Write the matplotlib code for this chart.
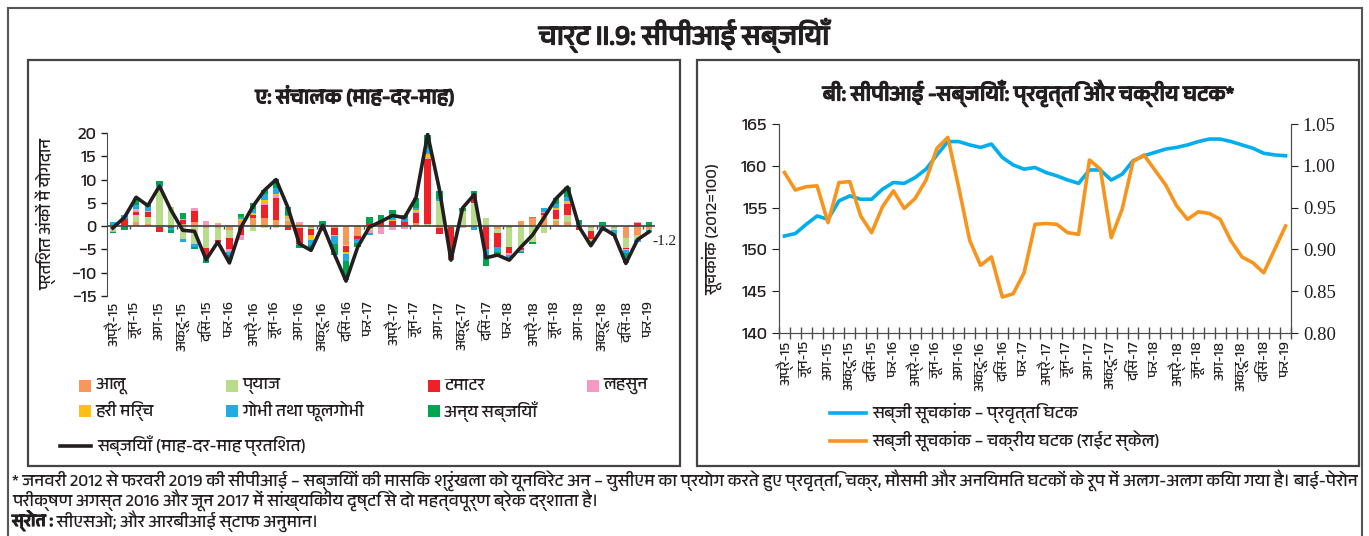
import matplotlib

matplotlib.use("Agg")
import matplotlib.pyplot as plt
import matplotlib.patheffects as pe
import numpy as np
from matplotlib import font_manager
from matplotlib.lines import Line2D
from matplotlib.patches import Rectangle

# pick a font that has Devanagari glyphs, fall back to DejaVu for the rest
deva = sorted({f.name for f in font_manager.fontManager.ttflist if "Devanagari" in f.name})
FAMILY = deva[:1] + ["DejaVu Sans"]
plt.rcParams["font.family"] = FAMILY

INK = "#231f20"
BOLD = [pe.withStroke(linewidth=0.9, foreground=INK)]   # the Devanagari face has no bold cut

# ---- data: Apr-2015 .. Feb-2019 (47 months) ----
tick_labels = ["अप्रै-15", "जून-15", "अग-15", "अक्टू-15", "दिसं-15", "फर-16",
               "अप्रै-16", "जून-16", "अग-16", "अक्टू-16", "दिसं-16", "फर-17",
               "अप्रै-17", "जून-17", "अग-17", "अक्टू-17", "दिसं-17", "फर-18",
               "अप्रै-18", "जून-18", "अग-18", "अक्टू-18", "दिसं-18", "फर-19"]

series_names = ["आलू", "प्याज", "टमाटर", "लहसुन", "हरी मिर्च", "गोभी तथा फूलगोभी", "अन्य सब्जियाँ"]
series_colors = ["#F7975A", "#B9DC8C", "#EE2128", "#F49AC2", "#FDC010", "#21ABE2", "#00A551"]

potato = [-0.3, 0.2, 0.8, 0.4, -0.2, 0.0, 0.5, 0.8, -0.5, -0.4, -0.8, 1.0, 1.8, 1.8, 1.4, 1.2,
          0.4, -0.5, -0.4, -0.5, -4.0, -2.2, -0.6, -0.5, 0.3, 0.3, 0.6, 0.2, -0.3, -0.2, 0.0, 0.0,
          0.0, -0.7, -0.3, 1.2, 1.8, 2.3, 1.0, 0.8, 0.0, -0.3, 0.2, -0.5, -2.6, -2.0, -0.6]
onion = [-0.8, 0.0, 1.7, 1.6, 8.3, 4.0, -2.8, -3.8, -4.2, -2.6, -1.7, 0.0, -1.0, -0.3, -0.3, 0.3,
         -0.3, -0.2, 0.0, 0.0, -0.3, 0.0, -0.3, 0.0, 0.0, 0.0, 0.0, 0.3, 5.3, 0.2, 3.0, 5.0,
         1.8, -0.8, -4.2, -4.8, -3.5, -1.5, 0.5, 1.7, 0.0, -0.7, 0.0, -0.3, -2.0, -1.0, -0.3]
tomato = [0.3, 1.3, 0.6, 1.0, -1.0, -0.5, 0.8, 2.5, -1.8, -0.5, -2.5, -2.0, 0.5, 2.7, 4.6, -0.9,
          -3.5, -1.3, -0.4, -1.3, -1.2, -0.5, 0.4, 0.8, 0.8, 0.5, 2.2, 14.0, -1.3, -6.8, -0.2, 1.8,
          -5.0, -3.0, -1.3, -0.3, 0.0, 0.6, 2.0, 2.3, -0.8, -1.7, -0.2, 0.0, -0.3, 0.7, 0.0]
garlic = [-0.2, 0.0, 0.3, 0.2, 0.0, 0.0, 0.1, 0.5, 1.0, 0.4, -0.5, -1.0, 0.0, 0.5, 0.6, 0.2,
          0.5, 0.3, 0.0, 0.2, 0.0, 0.0, -0.6, -1.2, -0.8, -0.6, 0.2, 0.2, 0.0, 0.0, -0.2, 0.1,
          0.0, 0.0, -0.3, -0.2, 0.0, 0.2, 0.2, 0.2, 0.0, 0.0, 0.0, 0.0, 0.0, 0.2, 0.0]
chilli = [0.0, 0.0, 0.2, 0.1, 0.1, 0.2, 0.1, 0.0, 0.0, 0.2, 0.0, 0.5, 0.5, 0.6, 0.2, 0.4,
          0.0, -1.0, 0.0, -0.3, -0.5, 0.2, 0.0, 0.0, 0.2, 0.1, 0.4, 0.7, 0.0, 0.0, 0.3, 0.0,
          0.0, 0.0, 0.0, 0.0, 0.0, 0.0, 0.2, 0.3, 0.2, -0.4, 0.1, 0.0, -0.2, 0.0, 0.0]
cabbage = [0.5, 1.0, 1.0, 0.8, 0.4, -0.3, -0.5, -0.7, -0.8, -0.2, -0.7, 0.5, 0.8, 1.2, 1.3, 0.3,
           -0.3, -1.0, -0.2, -1.8, -1.5, -1.0, -0.4, 0.0, 0.8, 0.8, 0.6, 1.3, 0.5, 0.0, 0.0, -0.8,
           -1.2, -1.0, -0.9, -0.3, 0.2, 0.8, 0.8, 1.0, 0.3, -0.2, -0.8, -1.0, -0.7, -0.3, -0.3]
others = [-0.2, -0.9, 1.5, 0.6, 0.8, -0.6, 1.3, -0.5, -0.6, 0.0, -0.9, 0.7, 1.4, 1.0, 2.0, 1.7,
          -0.6, -1.0, 1.2, -2.4, -4.1, -0.8, 1.5, 1.5, 1.3, 0.7, 2.0, 2.8, 1.8, -0.3, 0.5, 0.7,
          -2.3, -0.5, 0.0, -0.1, -0.3, 0.0, 1.3, 2.2, 0.9, -0.2, 0.6, -0.3, -2.2, 0.0, 0.9]

veg_mom = [-0.4, 1.9, 6.2, 4.4, 8.6, 3.4, -0.9, -1.1, -7.2, -3.4, -7.9, -0.2, 4.2, 7.7, 10.0, 4.1,
           -3.8, -5.2, 0.2, -6.0, -11.8, -4.5, -0.2, 1.0, 2.3, 1.8, 6.1, 19.7, 8.0, -7.3, 3.9, 6.8,
           -6.8, -6.2, -7.3, -4.5, -1.9, 1.9, 5.9, 8.4, -0.2, -4.2, -0.4, -1.9, -8.0, -2.9, -1.2]

trend = [151.6, 151.9, 153.0, 154.0, 153.6, 155.8, 156.4, 156.0, 156.0, 157.2, 158.0, 157.9,
         158.6, 159.6, 161.3, 162.9, 162.9, 162.5, 162.2, 162.6, 161.0, 160.1, 159.6, 159.8,
         159.2, 158.8, 158.3, 157.9, 159.5, 159.5, 158.3, 159.0, 160.6, 161.2, 161.6, 162.0,
         162.2, 162.5, 162.9, 163.2, 163.2, 162.9, 162.5, 162.1, 161.5, 161.3, 161.2]
cycle = [0.992, 0.971, 0.975, 0.976, 0.932, 0.980, 0.981, 0.940, 0.920, 0.951, 0.970, 0.949,
         0.961, 0.983, 1.021, 1.034, 0.974, 0.911, 0.881, 0.891, 0.843, 0.847, 0.872, 0.930,
         0.931, 0.930, 0.920, 0.918, 1.007, 0.996, 0.914, 0.948, 1.005, 1.013, 0.995, 0.977,
         0.952, 0.936, 0.945, 0.943, 0.936, 0.910, 0.891, 0.884, 0.872, 0.900, 0.928]

components = [potato, onion, tomato, garlic, chilli, cabbage, others]

W, H = 1369, 536


def fx(px):
    return px / W


def fy(py):
    return 1 - py / H


fig = plt.figure(figsize=(W / 100, H / 100), dpi=100)

# frame and panel boxes
for xs, ys in [([8, 1362], [8, 8]), ([8, 8], [8, 536]), ([1362, 1362], [8, 536])]:
    fig.add_artist(Line2D([fx(v) for v in xs], [fy(v) for v in ys], color="#555555", lw=1.5))
for x0, x1 in [(28, 680), (697, 1359)]:
    fig.add_artist(Rectangle((fx(x0), fy(466)), fx(x1) - fx(x0), fy(60) - fy(466),
                             transform=fig.transFigure, fill=False, ec="#444444", lw=1.6))

fig.text(fx(684), fy(35), "चार्ट II.9: सीपीआई सब्जियाँ", ha="center", va="center",
         fontsize=20, color=INK, path_effects=BOLD)
fig.text(fx(355), fy(97), "ए: संचालक (माह-दर-माह)", ha="center", va="center",
         fontsize=15, color=INK, path_effects=BOLD)
fig.text(fx(1028), fy(93), "बी: सीपीआई -सब्जियाँ: प्रवृत्ति और चक्रीय घटक*", ha="center",
         va="center", fontsize=15.5, color=INK, path_effects=BOLD)

# ---- panel A: stacked contributions ----
x = np.arange(len(veg_mom))
ax1 = fig.add_axes([fx(107), fy(296), (655 - 107) / W, (296 - 133) / H])
pos_base = np.zeros(len(x))
neg_base = np.zeros(len(x))
for vals, color in zip(components, series_colors):
    v = np.array(vals)
    p = np.where(v > 0, v, 0)
    n = np.where(v < 0, v, 0)
    ax1.bar(x, p, 0.55, bottom=pos_base, color=color, lw=0, zorder=2)
    ax1.bar(x, n, 0.55, bottom=neg_base, color=color, lw=0, zorder=2)
    pos_base += p
    neg_base += n
ax1.axhline(0, color="#4d4d4d", lw=1.3, zorder=3)
ax1.vlines(np.arange(1.5, 47, 4), -0.7, 0, color="#4d4d4d", lw=1, zorder=3)
ax1.plot(x, veg_mom, color=INK, lw=2.6, zorder=4)
ax1.annotate(f"{veg_mom[-1]}", (x[-1], veg_mom[-1]), xytext=(2, -7), textcoords="offset points",
             ha="left", va="center", fontsize=11, family="Liberation Serif", color=INK)
ax1.set_xlim(-0.5, len(x) - 0.5)
ax1.set_ylim(-15, 20)
ax1.set_yticks(range(-15, 21, 5))
ax1.set_xticks(x[::2])
ax1.set_xticklabels(tick_labels, rotation=90, fontsize=10.5, color=INK)
ax1.tick_params(axis="x", length=0, pad=4)
ax1.tick_params(axis="y", labelsize=13, length=4, width=1, colors=INK)
for s in ["top", "right", "bottom"]:
    ax1.spines[s].set_visible(False)
ax1.spines["left"].set_color("#4d4d4d")
ax1.set_ylabel("प्रतिशत अंकों में योगदान", fontsize=12, color=INK)
ax1.yaxis.set_label_coords(-0.092, 0.5)

# legend A (manual layout, uneven columns as in the original)
leg_pos = [(79, 386), (226, 386), (428, 386), (587, 386), (79, 411), (226, 411), (428, 411)]
for (lx, ly), name, color in zip(leg_pos, series_names, series_colors):
    fig.add_artist(Rectangle((fx(lx), fy(ly + 6)), 12 / W, 12 / H, transform=fig.transFigure,
                             fc=color, ec="none"))
    fig.text(fx(lx + 16), fy(ly), name, ha="left", va="center", fontsize=12.5, color=INK)
fig.add_artist(Line2D([fx(60), fx(91)], [fy(446), fy(446)], color=INK, lw=2.6))
fig.text(fx(97), fy(446), "सब्जियाँ (माह-दर-माह प्रतिशत)", ha="left", va="center",
         fontsize=12.5, color=INK)

# ---- panel B: trend and cycle ----
ax2 = fig.add_axes([fx(779), fy(333), (1291 - 779) / W, (333 - 124) / H])
ax2.plot(x, trend, color="#00AEEF", lw=2.6)
ax2.set_xlim(-0.5, len(x) - 0.5)
ax2.set_ylim(140, 165)
ax2.set_yticks(range(140, 166, 5))
ax2.set_xticks(x[::2])
ax2.set_xticklabels(tick_labels, rotation=90, fontsize=10.5, color=INK)
ax2.set_xticks(np.arange(-0.5, len(x), 1), minor=True)
ax2.tick_params(axis="x", which="major", length=0, pad=6)
ax2.tick_params(axis="x", which="minor", direction="inout", length=8, width=1, color="#4d4d4d")
ax2.tick_params(axis="y", labelsize=13, length=5, colors=INK)
ax2.spines["top"].set_visible(False)
ax2.set_ylabel("सूचकांक (2012=100)", fontsize=12, color=INK)
ax2.yaxis.set_label_coords(-0.111, 0.5)

ax3 = ax2.twinx()
ax3.plot(x, cycle, color="#F7941D", lw=2.6)
ax3.set_ylim(0.80, 1.05)
ax3.set_yticks(np.arange(0.80, 1.051, 0.05))
ax3.set_yticklabels([f"{v:.2f}" for v in np.arange(0.80, 1.051, 0.05)],
                    family="Liberation Serif", fontsize=13.5)
ax3.tick_params(axis="y", length=5, colors=INK)
ax3.spines["top"].set_visible(False)
for a in (ax2, ax3):
    for s in ["left", "right", "bottom"]:
        a.spines[s].set_color("#4d4d4d")

fig.add_artist(Line2D([fx(830), fx(866)], [fy(413), fy(413)], color="#00AEEF", lw=2.6))
fig.text(fx(872), fy(413), "सब्जी सूचकांक – प्रवृत्ति घटक", ha="left", va="center",
         fontsize=12.5, color=INK)
fig.add_artist(Line2D([fx(830), fx(866)], [fy(441), fy(441)], color="#F7941D", lw=2.6))
fig.text(fx(872), fy(441), "सब्जी सूचकांक – चक्रीय घटक (राईट स्केल)", ha="left", va="center",
         fontsize=12.5, color=INK)

# ---- footnote ----
fig.text(fx(12), fy(480), "* जनवरी 2012 से फरवरी 2019 की सीपीआई – सब्जियों की मासिक श्रृंखला को यूनिवरेट अन – "
         "युसीएम का प्रयोग करते हुए प्रवृत्ति, चक्र, मौसमी और अनियमित घटकों के रूप में अलग-अलग किया गया है। बाई-पेरोन",
         ha="left", va="center", fontsize=12.5, color=INK)
fig.text(fx(12), fy(500), "परीक्षण अगस्त 2016 और जून 2017 में सांख्यिकीय दृष्टि से दो महत्वपूर्ण ब्रेक दर्शाता है।",
         ha="left", va="center", fontsize=12.5, color=INK)
src = fig.text(fx(12), fy(521), "स्रोत :", ha="left", va="center", fontsize=12.5, color=INK,
               path_effects=BOLD)
ax1.annotate(" सीएसओ; और आरबीआई स्टाफ अनुमान।", xy=(1, 0.5), xycoords=src, ha="left", va="center",
             fontsize=12.5, color=INK)

fig.savefig("out.png", dpi=100)
